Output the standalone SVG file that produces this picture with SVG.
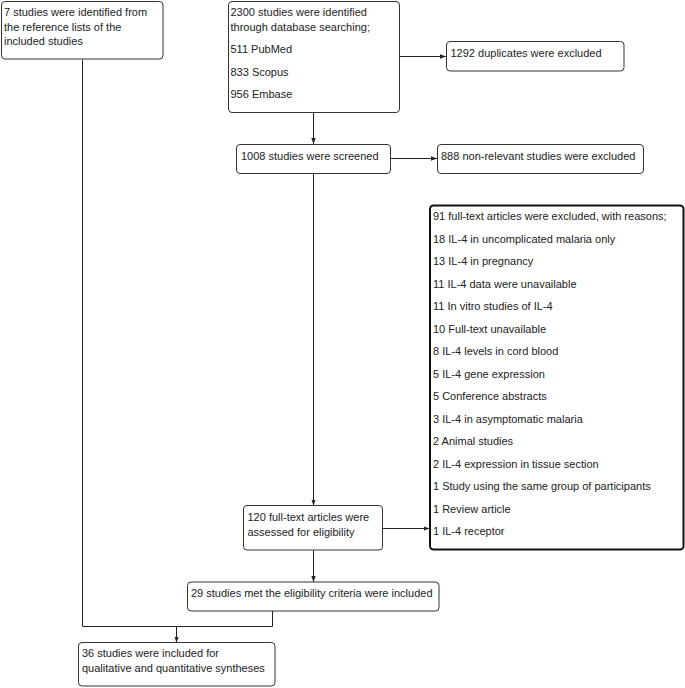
<svg xmlns="http://www.w3.org/2000/svg" width="685" height="688" viewBox="0 0 685 688">
<defs>
<marker id="arr" viewBox="0 0 6 6" refX="6" refY="3" markerWidth="6" markerHeight="6" markerUnits="userSpaceOnUse" orient="auto">
<path d="M0,0.8 L6,3 L0,5.2 Z" fill="#222"/>
</marker>
<style>
rect.box{fill:#fff;stroke:#333;stroke-width:1}
rect.bold{fill:#fff;stroke:#111;stroke-width:2}
text{font-family:"Liberation Sans",Arial,sans-serif;font-size:11px;fill:#222}
.conn path{fill:none;stroke:#222;stroke-width:1}
</style>
</defs>
<rect width="685" height="688" fill="#fff"/>
<g class="conn">
<path d="M313.5,112.5 V144" marker-end="url(#arr)"/>
<path d="M399.5,56.5 H446" marker-end="url(#arr)"/>
<path d="M390.5,158.5 H437" marker-end="url(#arr)"/>
<path d="M313.5,173.5 V505.5" marker-end="url(#arr)"/>
<path d="M382.5,528.5 H429.5" marker-end="url(#arr)"/>
<path d="M313.5,550.5 V582" marker-end="url(#arr)"/>
<path d="M82.5,59.5 V626.5 H272.5 V611"/>
<path d="M176.5,626.5 V642.5" marker-end="url(#arr)"/>
</g>
<g id="n_refs">
<rect class="box" x="1.5" y="1.5" width="161.5" height="57.5" rx="3.5"/>
<text x="4" y="16">7 studies were identified from</text>
<text x="4" y="30.5">the reference lists of the</text>
<text x="4" y="45">included studies</text>
</g>
<g id="n_db">
<rect class="box" x="228.5" y="1.5" width="171" height="111" rx="3.5"/>
<text x="230.5" y="16">2300 studies were identified</text>
<text x="230.5" y="30.5">through database searching;</text>
<text x="230.5" y="53">511 PubMed</text>
<text x="230.5" y="75.5">833 Scopus</text>
<text x="230.5" y="98">956 Embase</text>
</g>
<g id="n_dup">
<rect class="box" x="446.5" y="41.5" width="177.5" height="29.5" rx="3.5"/>
<text x="450.5" y="57">1292 duplicates were excluded</text>
</g>
<g id="n_screened">
<rect class="box" x="236.5" y="144.5" width="154" height="29" rx="3.5"/>
<text x="241" y="159.5">1008 studies were screened</text>
</g>
<g id="n_nonrel">
<rect class="box" x="437.5" y="144.5" width="206" height="29" rx="3.5"/>
<text x="441" y="159.5">888 non-relevant studies were excluded</text>
</g>
<g id="n_excluded">
<rect class="bold" x="430" y="205.5" width="253.5" height="344" rx="3.5"/>
<text x="433" y="220">91 full-text articles were excluded, with reasons;</text>
<text x="433" y="242.5">18 IL-4 in uncomplicated malaria only</text>
<text x="433" y="265">13 IL-4 in pregnancy</text>
<text x="433" y="287.5">11 IL-4 data were unavailable</text>
<text x="433" y="310">11 In vitro studies of IL-4</text>
<text x="433" y="332.5">10 Full-text unavailable</text>
<text x="433" y="355">8 IL-4 levels in cord blood</text>
<text x="433" y="377.5">5 IL-4 gene expression</text>
<text x="433" y="400">5 Conference abstracts</text>
<text x="433" y="422.5">3 IL-4 in asymptomatic malaria</text>
<text x="433" y="445">2 Animal studies</text>
<text x="433" y="467.5">2 IL-4 expression in tissue section</text>
<text x="433" y="490">1 Study using the same group of participants</text>
<text x="433" y="512.5">1 Review article</text>
<text x="433" y="535">1 IL-4 receptor</text>
</g>
<g id="n_assessed">
<rect class="box" x="243.5" y="505.5" width="139" height="44.5" rx="3.5"/>
<text x="247.5" y="520.5">120 full-text articles were</text>
<text x="247.5" y="535.5">assessed for eligibility</text>
</g>
<g id="n_met">
<rect class="box" x="187.5" y="582" width="251.5" height="29" rx="3.5"/>
<text x="191" y="596.5">29 studies met the eligibility criteria were included</text>
</g>
<g id="n_included">
<rect class="box" x="78.5" y="642.5" width="196.5" height="43.5" rx="3.5"/>
<text x="82" y="657">36 studies were included for</text>
<text x="82" y="672">qualitative and quantitative syntheses</text>
</g>
</svg>
